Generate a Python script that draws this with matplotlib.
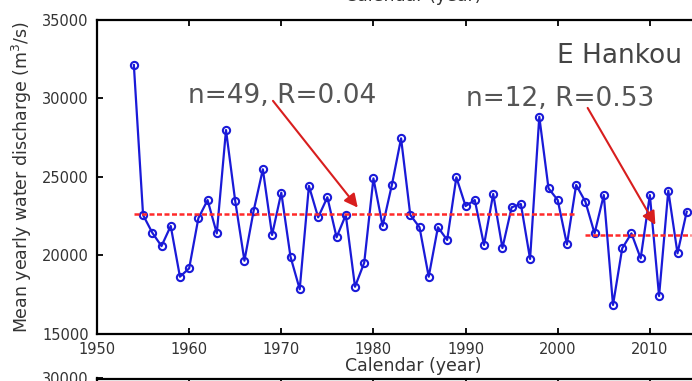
import matplotlib
matplotlib.use("Agg")
import matplotlib.pyplot as plt

plt.rcParams['font.family'] = ['DejaVu Sans']

years = list(range(1954, 2015))
discharge = [32130, 22580, 21450, 20600, 21880, 18650, 19180, 22370, 23530, 21410,
             27990, 23470, 19670, 22850, 25490, 21310, 24000, 19920, 17850, 24430,
             22430, 23710, 21160, 22580, 18010, 19540, 24910, 21880, 24490, 27460,
             22580, 21800, 18650, 21800, 20990, 24980, 23150, 23530, 20670, 23920,
             20480, 23070, 23280, 19780, 28840, 24280, 23530, 20710, 24490,
             23430, 21410, 23850, 16850, 20460, 21410, 19820, 23850, 17420, 24130,
             20140, 22790]
period_start = [1954, 2003]
period_end = [2002, 2014.5]
period_mean = [22650, 21300]
period_labels = ["n=49, R=0.04", "n=12, R=0.53"]
label_pos = [(1959.9, 29713), (1990.1, 29510)]
arrow_tail = [(1969.1, 29850), (2003.25, 29400)]
arrow_tip = [(1978.3, 23050), (2010.6, 21950)]
station = "E Hankou"
xticks = [1950, 1960, 1970, 1980, 1990, 2000, 2010]
yticks = [15000, 20000, 25000, 30000, 35000]

W, H = 692, 381
fig = plt.figure(figsize=(W / 100, H / 100), dpi=100)

ax_left = 97 / W
ax_w = (742 - 97) / W
ax_top = 20
ax_bot = 334
ax = fig.add_axes([ax_left, (H - ax_bot) / H, ax_w, (ax_bot - ax_top) / H])

blue = '#1a1ad8'
ax.plot(years, discharge, '-o', color=blue, lw=1.6, ms=5.2,
        mfc='none', mec=blue, mew=1.5, zorder=3)

for s, e, m in zip(period_start, period_end, period_mean):
    ax.plot([s, e], [m, m], color='#ff2a2a', lw=1.8, ls=(0, (2, 1)), zorder=4)

for txt, (tx, ty) in zip(period_labels, label_pos):
    ax.text(tx, ty, txt, fontsize=19, color='#555555', ha='left', va='baseline', zorder=5)

for (x0, y0), (x1, y1) in zip(arrow_tail, arrow_tip):
    ax.annotate('', xy=(x1, y1), xytext=(x0, y0),
                arrowprops=dict(arrowstyle='-|>,head_length=0.8,head_width=0.4',
                                color='#d81e1e', lw=1.5, shrinkA=0, shrinkB=0),
                zorder=6)

ax.text(1999.9, 32260, station, fontsize=19, color='#444444', ha='left', va='baseline')

ax.set_xlim(1950, 2020)
ax.set_ylim(15000, 35000)
ax.set_xticks(xticks)
ax.set_yticks(yticks)
ax.tick_params(direction='in', length=4, width=1.3, top=True, right=False,
               labelsize=10.5, labelcolor='#333333', pad=6)
for sp in ['left', 'bottom', 'top']:
    ax.spines[sp].set_linewidth(1.6)
ax.spines['right'].set_visible(False)

fig.text(22 / W, 1 - 177 / H, "Mean yearly water discharge (m$^3$/s)", rotation=90,
         ha='center', va='center', fontsize=12.5, color='#333333')
fig.text(413 / W, 1 - 366 / H, "Calendar (year)", ha='center', va='center',
         fontsize=12.5, color='#333333')
fig.text(413 / W, 1 - 1 / H, "Calendar (year)", ha='center', va='baseline',
         fontsize=12.5, color='#333333')

# next panel (cut off at bottom)
top2 = 378.5
ax2 = fig.add_axes([ax_left, (H - top2) / H - (ax_bot - ax_top) / H, ax_w, (ax_bot - ax_top) / H])
ax2.set_xlim(1950, 2020)
ax2.set_ylim(10000, 30000)
ax2.set_yticks([30000])
ax2.set_xticks(xticks)
ax2.tick_params(direction='in', length=4, width=1.3, top=True, labelsize=10.5,
                labelcolor='#333333', pad=6, labelbottom=False)
for sp in ['left', 'bottom', 'top']:
    ax2.spines[sp].set_linewidth(1.6)
ax2.spines['right'].set_visible(False)
fig.text(22 / W, 1 - (top2 + 157) / H, "Mean yearly water discharge (m$^3$/s)", rotation=90,
         ha='center', va='center', fontsize=12.5, color='#333333')

fig.savefig('out.png', dpi=100)
